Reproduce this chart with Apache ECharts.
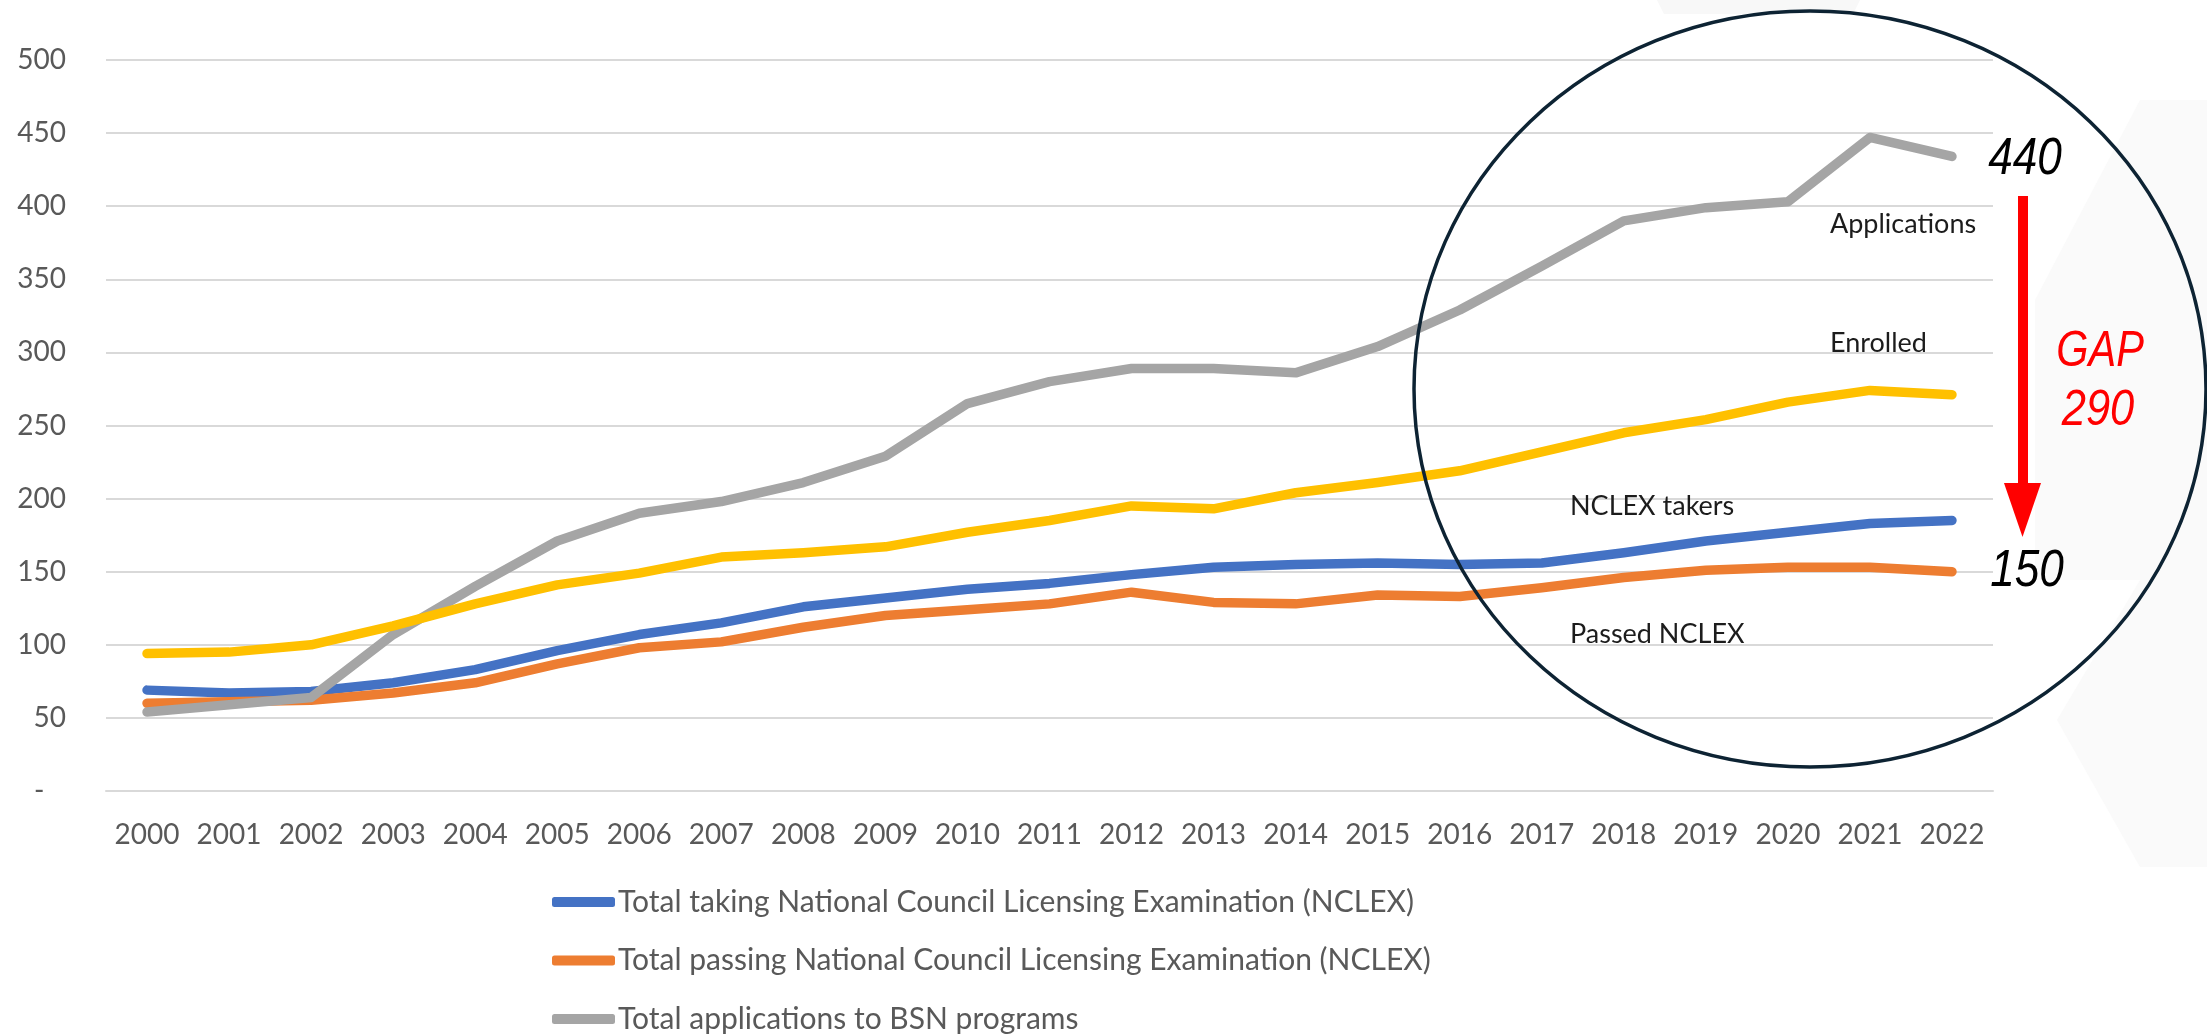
<!DOCTYPE html>
<html>
<head>
<meta charset="utf-8">
<script src="https://cdn.jsdelivr.net/npm/echarts@6/dist/echarts.min.js"></script>
<style>
html,body{margin:0;padding:0;background:#fff;}
#chart{width:2207px;height:1034px;}
</style>
</head>
<body>
<div id="chart"></div>
<script>
const years = ['2000','2001','2002','2003','2004','2005','2006','2007','2008','2009','2010','2011','2012','2013','2014','2015','2016','2017','2018','2019','2020','2021','2022'];
const takingNCLEX = [69, 67, 68, 74, 83, 96, 107, 115, 126, 132, 138, 142, 148, 153, 155, 156, 155, 156, 163, 171, 177, 183, 185];
const passingNCLEX = [60, 61, 62, 67, 74, 87, 98, 102, 112, 120, 124, 128, 136, 129, 128, 134, 133, 139, 146, 151, 153, 153, 150];
const applicationsBSN = [54, 59, 64, 107, 140, 171, 190, 198, 211, 229, 265, 280, 289, 289, 286, 304, 329, 359, 390, 399, 403, 447, 434];
const enrolledBSN = [94, 95, 100, 113, 128, 141, 149, 160, 163, 167, 177, 185, 195, 193, 204, 211, 219, 232, 245, 254, 266, 274, 271];
const seriesNames = [
  'Total taking National Council Licensing Examination (NCLEX)',
  'Total passing National Council Licensing Examination (NCLEX)',
  'Total applications to BSN programs',
  'Total enrolled in BSN programs'
];
const yTicks = {min: 0, max: 500, interval: 50};

const FONT = "Lato, 'Open Sans', sans-serif";
const ITAL = "'Liberation Sans', Arial, sans-serif";
const colors = ['#4472C4', '#ED7D31', '#A5A5A5', '#FFC000'];

function lineSeries(name, data, color) {
  return {
    name: name, type: 'line', data: data, color: color,
    showSymbol: false, smooth: false, animation: false,
    lineStyle: {width: 9.5, color: color, cap: 'round', join: 'round'},
    emphasis: {disabled: true}
  };
}

function bigText(txt, x, y, size, color, sx) {
  return {
    type: 'text', z: 101, silent: true, x: x, y: y, scaleX: sx,
    style: {text: txt, x: 0, y: 0, align: 'center', verticalAlign: 'middle', fill: color, font: 'italic ' + size + 'px ' + ITAL}
  };
}
function noteText(txt, x, y) {
  return {
    type: 'text', z: 101, silent: true,
    style: {text: txt, x: x, y: y, align: 'left', verticalAlign: 'middle', fill: '#1c1c1c', font: '27px ' + FONT}
  };
}

const chart = echarts.init(document.getElementById('chart'), null, {renderer: 'canvas'});
chart.setOption({
  backgroundColor: '#ffffff',
  animation: false,
  grid: {left: 106, right: 214, top: 60, bottom: 243, containLabel: false},
  xAxis: {
    type: 'category', data: years, boundaryGap: true,
    axisLine: {show: true, lineStyle: {color: '#d9d9d9', width: 2}},
    axisTick: {show: false},
    axisLabel: {color: '#595959', fontFamily: FONT, fontSize: 28, margin: 30, interval: 0}
  },
  yAxis: {
    type: 'value', min: yTicks.min, max: yTicks.max, interval: yTicks.interval,
    axisLine: {show: false}, axisTick: {show: false},
    splitLine: {lineStyle: {color: '#d9d9d9', width: 2}},
    axisLabel: {
      color: '#595959', fontFamily: FONT, fontSize: 28, margin: 40,
      formatter: function (v) { return v === 0 ? '-\u00a0\u00a0\u00a0' : String(v); }
    }
  },
  legend: {
    orient: 'vertical', left: 552, top: 886, height: 400, padding: 0,
    data: [seriesNames[0], seriesNames[1], seriesNames[2]],
    icon: 'roundRect', itemWidth: 63, itemHeight: 10, itemGap: 26.5,
    textStyle: {color: '#595959', fontFamily: FONT, fontSize: 30, lineHeight: 32, padding: [0, 0, 0, -2]},
    selectedMode: false
  },
  series: [
    lineSeries(seriesNames[0], takingNCLEX, colors[0]),
    lineSeries(seriesNames[1], passingNCLEX, colors[1]),
    lineSeries(seriesNames[2], applicationsBSN, colors[2]),
    lineSeries(seriesNames[3], enrolledBSN, colors[3])
  ],
  graphic: [
    {type: 'polygon', z: 0, silent: true, shape: {points: [[1657,0],[1860,0],[1853,14],[1664,14]]}, style: {fill: '#f8f8f8'}},
    {type: 'polygon', z: 0, silent: true, shape: {points: [[2140,100],[2207,100],[2207,867],[2140,867],[2057,720],[2140,580],[2035,580],[2035,300]]}, style: {fill: '#fafafa'}},
    {type: 'ellipse', z: 100, silent: true, shape: {cx: 1810, cy: 389, rx: 396, ry: 378}, style: {fill: null, stroke: '#0d2333', lineWidth: 3.5}},
    {type: 'rect', z: 101, silent: true, shape: {x: 2018, y: 196, width: 10, height: 290}, style: {fill: '#ff0000'}},
    {type: 'polygon', z: 101, silent: true, shape: {points: [[2004,483],[2041,483],[2022.5,537]]}, style: {fill: '#ff0000'}},
    bigText('440', 2025, 160, 52, '#000000', 0.85),
    bigText('150', 2027, 572, 52, '#000000', 0.85),
    bigText('GAP', 2100, 352, 50, '#ff0000', 0.83),
    bigText('290', 2098, 411, 50, '#ff0000', 0.87),
    noteText('Applications', 1830, 224),
    noteText('Enrolled', 1830, 343),
    noteText('NCLEX takers', 1570, 506),
    noteText('Passed NCLEX', 1570, 634)
  ]
});
</script>
</body>
</html>
